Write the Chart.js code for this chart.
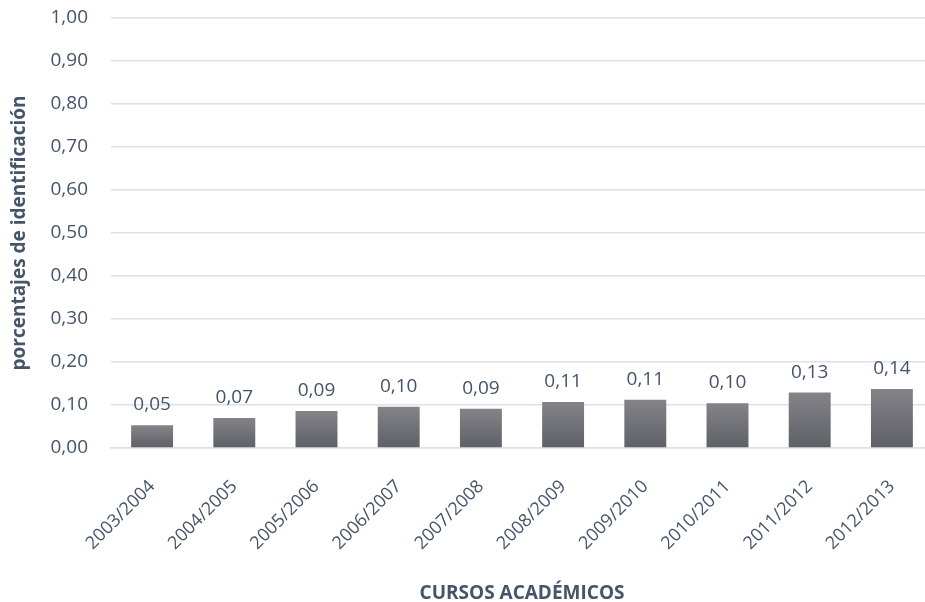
<!DOCTYPE html>
<html>
<head>
<meta charset="utf-8">
<script src="https://cdn.jsdelivr.net/npm/chart.js@4.4.0/dist/chart.umd.min.js"></script>
<style>
  html, body { margin: 0; padding: 0; background: #ffffff; overflow: hidden; }
  #wrap { width: 925px; height: 602px; overflow: hidden; }
</style>
</head>
<body>
<div id="wrap"><canvas id="chart" width="933" height="602"></canvas></div>
<script>
const cursos = ['2003/2004', '2004/2005', '2005/2006', '2006/2007', '2007/2008',
                '2008/2009', '2009/2010', '2010/2011', '2011/2012', '2012/2013'];
const porcentajes = [0.053, 0.070, 0.086, 0.096, 0.091, 0.107, 0.112, 0.104, 0.129, 0.137];

const textColor = '#44546a';
const gridColor = '#dae2eb';
const fontFamily = '"Open Sans", "Noto Sans", sans-serif';

function fmt(v) {
    return v.toFixed(2).replace('.', ',');
}

// Draw value labels above the bars
const valueLabels = {
    id: 'valueLabels',
    afterDatasetsDraw(chart) {
        const ctx = chart.ctx;
        const meta = chart.getDatasetMeta(0);
        ctx.save();
        ctx.fillStyle = textColor;
        ctx.font = '19px ' + fontFamily;
        ctx.textAlign = 'center';
        ctx.textBaseline = 'alphabetic';
        meta.data.forEach((bar, i) => {
            ctx.fillText(fmt(porcentajes[i]), bar.x, bar.y - 15);
        });
        ctx.restore();
    }
};

// each bar gets its own top-to-bottom gradient
function barGradient(context) {
    const chart = context.chart;
    if (!chart.chartArea || !chart.scales.y) return '#707075';
    const y0 = chart.scales.y.getPixelForValue(0);
    const y1 = chart.scales.y.getPixelForValue(context.raw);
    if (!isFinite(y1) || y1 >= y0) return '#707075';
    const g = chart.ctx.createLinearGradient(0, y1, 0, y0);
    g.addColorStop(0, '#838388');
    g.addColorStop(1, '#5f6065');
    return g;
}

new Chart(document.getElementById('chart').getContext('2d'), {
    type: 'bar',
    data: {
        labels: cursos,
        datasets: [{
            data: porcentajes,
            backgroundColor: barGradient,
            borderWidth: 0,
            barPercentage: 0.51,
            categoryPercentage: 1.0
        }]
    },
    options: {
        responsive: false,
        animation: false,
        layout: { padding: { top: 18, right: 0, left: 8, bottom: 0 } },
        plugins: {
            legend: { display: false },
            tooltip: { enabled: false }
        },
        scales: {
            x: {
                grid: { display: false, drawTicks: false },
                border: { color: gridColor, width: 1.5 },
                ticks: {
                    color: textColor,
                    font: { family: fontFamily, size: 18 },
                    minRotation: 45,
                    maxRotation: 45,
                    padding: 28
                },
                title: {
                    display: true,
                    text: 'CURSOS ACADÉMICOS',
                    color: textColor,
                    font: { family: fontFamily, size: 19, weight: 'bold' },
                    padding: { top: 0, bottom: -3 }
                },
                afterFit(scale) {
                    scale.height = 154;
                    scale.paddingLeft = 0;
                    scale.paddingRight = 0;
                }
            },
            y: {
                min: 0,
                max: 1,
                grid: { color: gridColor, lineWidth: 1.5, drawTicks: false },
                border: { display: false },
                ticks: {
                    stepSize: 0.1,
                    color: textColor,
                    font: { family: fontFamily, size: 19 },
                    padding: 23,
                    callback: v => fmt(v)
                },
                title: {
                    display: true,
                    text: 'porcentajes de identificación',
                    color: textColor,
                    font: { family: fontFamily, size: 19, weight: 'bold' },
                    padding: { top: 0, bottom: 0 }
                },
                afterFit(scale) {
                    scale.width = 103;
                    scale.paddingTop = 0;
                    scale.paddingBottom = 0;
                }
            }
        }
    },
    plugins: [valueLabels]
});
</script>
</body>
</html>
